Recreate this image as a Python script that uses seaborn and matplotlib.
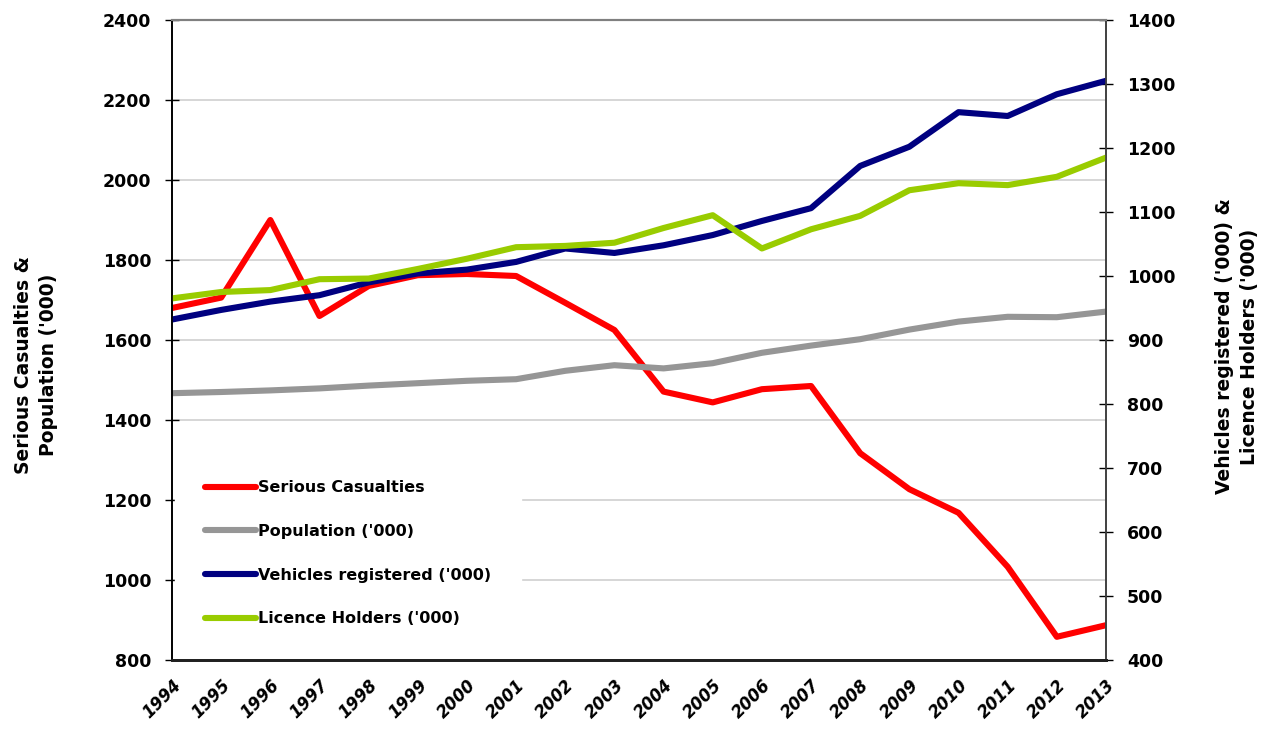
import numpy as np
import pandas as pd
import matplotlib
matplotlib.use('Agg')
import matplotlib.pyplot as plt
import seaborn as sns

years = list(range(1994, 2014))
serious_casualties = [1680, 1706, 1900, 1660, 1735, 1762, 1765, 1760, 1693, 1625,
                      1471, 1444, 1477, 1485, 1317, 1227, 1168, 1033, 858, 887]
population = [1467, 1470, 1474, 1479, 1486, 1492, 1498, 1502, 1523, 1537,
              1529, 1542, 1568, 1586, 1602, 1626, 1646, 1658, 1657, 1671]
vehicles = [932, 947, 960, 970, 990, 1004, 1010, 1022, 1043, 1036,
            1048, 1064, 1086, 1106, 1172, 1202, 1256, 1250, 1284, 1305]
licence_holders = [965, 975, 978, 995, 996, 1011, 1027, 1045, 1047, 1052,
                   1075, 1095, 1043, 1073, 1094, 1134, 1145, 1142, 1155, 1185]

left_ticks = list(range(800, 2401, 200))
right_ticks = list(range(400, 1401, 100))

sns.set_style("white")
plt.rcParams['font.family'] = ['DejaVu Sans']
plt.rcParams['text.color'] = 'black'
plt.rcParams['axes.labelcolor'] = 'black'
plt.rcParams['xtick.color'] = 'black'
plt.rcParams['ytick.color'] = 'black'

fig = plt.figure(figsize=(12.76, 7.29), dpi=100)
ax = fig.add_axes([172 / 1276, 1 - 660 / 729, (1106 - 172) / 1276, 640 / 729])
ax2 = ax.twinx()

lw = 4.4
sns.lineplot(x=years, y=serious_casualties, ax=ax, color='#ff0000', linewidth=lw,
             label='Serious Casualties', legend=False)
sns.lineplot(x=years, y=population, ax=ax, color='#969696', linewidth=lw,
             label="Population ('000)", legend=False)
sns.lineplot(x=years, y=vehicles, ax=ax2, color='#000080', linewidth=lw,
             label="Vehicles registered ('000)", legend=False)
sns.lineplot(x=years, y=licence_holders, ax=ax2, color='#99cc00', linewidth=lw,
             label="Licence Holders ('000)", legend=False)

ax.set_xlim(1994, 2013)
ax.set_ylim(800, 2400)
ax2.set_ylim(400, 1400)
ax.set_yticks(left_ticks)
ax2.set_yticks(right_ticks)
ax.set_xticks(years)

ax.yaxis.grid(True, color='#d0d0d0', linewidth=1.2)
ax.set_axisbelow(True)

tick_font = dict(fontsize=12.5, fontweight='bold')
ax.set_yticklabels([str(t) for t in left_ticks], **tick_font)
ax2.set_yticklabels([str(t) for t in right_ticks], **tick_font)
ax.set_xticklabels([str(y) for y in years], fontsize=12, fontweight='bold',
                   fontstyle='italic', rotation=45, ha='right', rotation_mode='anchor')

ax.tick_params(axis='y', direction='inout', length=10, width=1, pad=10)
ax.tick_params(axis='x', direction='inout', length=10, width=0.8, pad=7)
ax2.tick_params(axis='y', direction='inout', length=10, width=1, pad=10)

for a in (ax, ax2):
    a.spines['left'].set_color('black')
    a.spines['bottom'].set_color('#202020')
    a.spines['bottom'].set_linewidth(2)
    a.spines['left'].set_linewidth(1.2)
    a.spines['top'].set_color('#808080')
    a.spines['top'].set_linewidth(1.5)
    a.spines['right'].set_color('#404040')
    a.spines['right'].set_linewidth(1.2)
    for s in a.spines.values():
        s.set_zorder(10)

label_font = dict(fontsize=13.5, fontweight='bold', linespacing=1.4)
ax.set_ylabel("Serious Casualties &\nPopulation ('000)", **label_font)
ax2.set_ylabel("Vehicles registered ('000) &\nLicence Holders ('000)",
               rotation=90, **label_font)
ax2.yaxis.set_label_position('right')
ax.yaxis.set_label_coords(-0.122, 0.461)
ax2.yaxis.set_label_coords(1.117, 0.49)

h1, l1 = ax.get_legend_handles_labels()
h2, l2 = ax2.get_legend_handles_labels()
leg = ax2.legend(h1 + h2, l1 + l2, loc='lower left', bbox_to_anchor=(0.003, 0.005),
                 frameon=True, fancybox=False, framealpha=1, edgecolor='white',
                 facecolor='white', handlelength=3.2, handletextpad=0.1,
                 labelspacing=1.8, borderpad=1.9, borderaxespad=0,
                 prop=dict(weight='bold', size=11.5))

fig.savefig('out.png', dpi=100)
